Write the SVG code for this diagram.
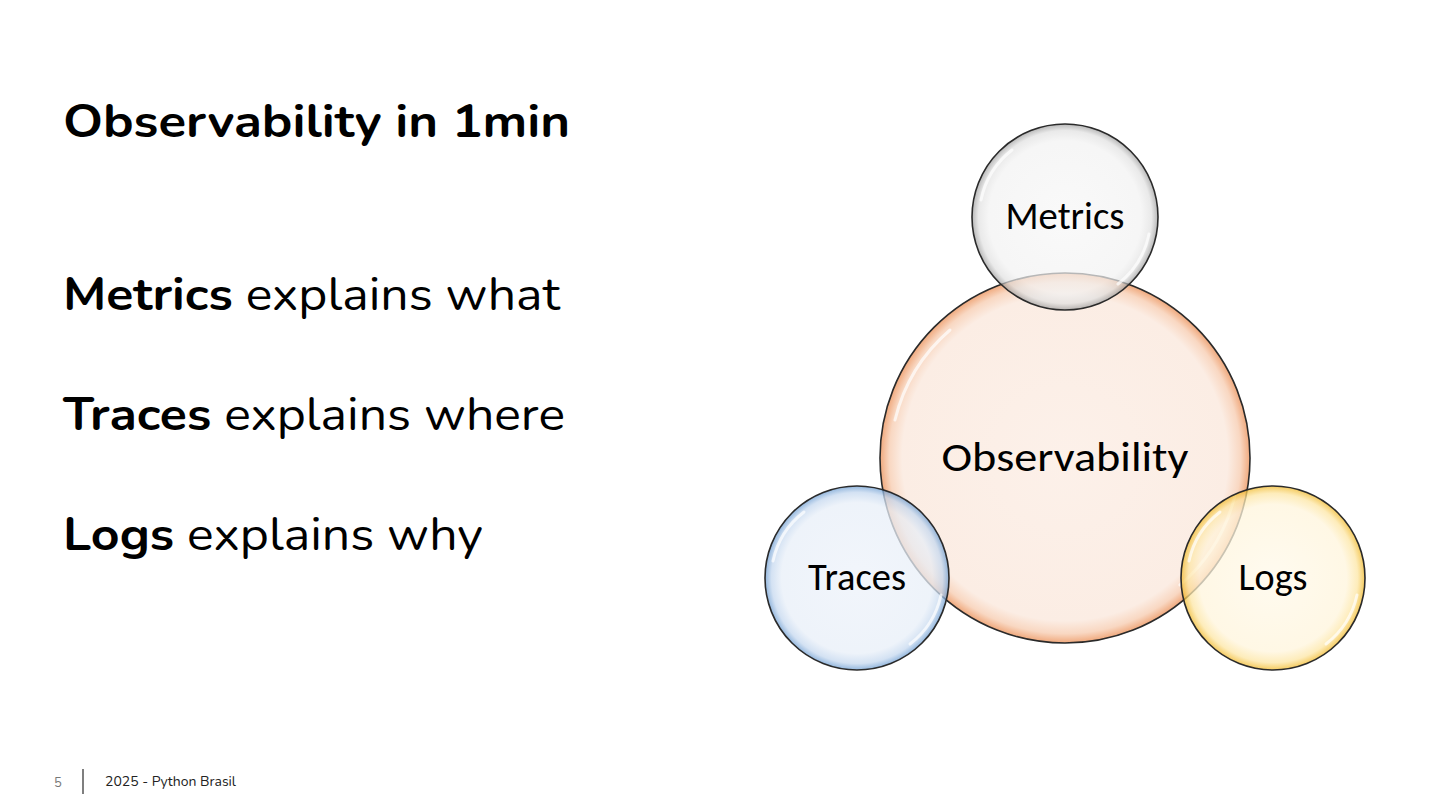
<svg xmlns="http://www.w3.org/2000/svg" width="1440" height="810" viewBox="0 0 1440 810">
<style>
.t{font-family:Nunito,Lato,"Noto Sans",sans-serif;fill:#000}
.lbl{font-family:Carlito,"Open Sans","Noto Sans",sans-serif;fill:#000;text-anchor:middle}
.c{stroke:#2a2a2a;stroke-width:1.6}
.hl{fill:none;stroke:#fff;stroke-width:3;stroke-opacity:0.7;stroke-linecap:round}
.ft{font-family:Nunito,Lato,"Noto Sans",sans-serif;font-size:13px}
</style>
<defs>
<radialGradient id="gM" cx="0.5" cy="0.5" r="0.5">
<stop offset="0" stop-color="#f7f7f7"/><stop offset="0.82" stop-color="#f2f2f2"/><stop offset="0.93" stop-color="#e0e0e0"/><stop offset="1" stop-color="#9a9a9a"/>
</radialGradient>
<radialGradient id="gO" cx="0.5" cy="0.5" r="0.5">
<stop offset="0" stop-color="#fcefe7"/><stop offset="0.88" stop-color="#fbebe1"/><stop offset="0.95" stop-color="#f8d3bb"/><stop offset="1" stop-color="#ee9f6e"/>
</radialGradient>
<radialGradient id="gT" cx="0.5" cy="0.5" r="0.5">
<stop offset="0" stop-color="#edf2fa"/><stop offset="0.82" stop-color="#e8eff8"/><stop offset="0.93" stop-color="#c5d8ef"/><stop offset="1" stop-color="#6e9ed2"/>
</radialGradient>
<radialGradient id="gL" cx="0.5" cy="0.5" r="0.5">
<stop offset="0" stop-color="#fff9ea"/><stop offset="0.8" stop-color="#fff5dc"/><stop offset="0.92" stop-color="#fde6a4"/><stop offset="1" stop-color="#f1b92a"/>
</radialGradient>
</defs>
<rect width="1440" height="810" fill="#fff"/>
<text class="t" x="63" y="137" font-size="45" font-weight="bold" textLength="507" lengthAdjust="spacingAndGlyphs">Observability in 1min</text>
<text class="t" x="63" y="310" font-size="46" textLength="497" lengthAdjust="spacingAndGlyphs"><tspan font-weight="bold">Metrics</tspan> explains what</text>
<text class="t" x="63" y="430" font-size="46" textLength="502" lengthAdjust="spacingAndGlyphs"><tspan font-weight="bold">Traces</tspan> explains where</text>
<text class="t" x="63" y="550" font-size="46" textLength="420" lengthAdjust="spacingAndGlyphs"><tspan font-weight="bold">Logs</tspan> explains why</text>
<g id="observability">
<circle class="c" cx="1065" cy="458" r="185" fill="url(#gO)" fill-opacity="0.9"/>
<path class="hl" d="M 895 420 A 172 172 0 0 1 950 330"/>
<path class="hl" d="M 1235 495 A 172 172 0 0 1 1180 585"/>
<text class="lbl" x="1065" y="471" font-size="42" textLength="247" lengthAdjust="spacingAndGlyphs">Observability</text>
</g>
<g id="metrics">
<circle class="c" cx="1065" cy="217" r="93" fill="url(#gM)" fill-opacity="0.7"/>
<path class="hl" d="M 981 200 A 85 85 0 0 1 1012 150"/>
<path class="hl" d="M 1149 234 A 85 85 0 0 1 1118 284"/>
<text class="lbl" x="1065" y="229" font-size="38" textLength="119" lengthAdjust="spacingAndGlyphs">Metrics</text>
</g>
<g id="traces">
<circle class="c" cx="857" cy="578" r="92" fill="url(#gT)" fill-opacity="0.75"/>
<path class="hl" d="M 773 561 A 84 84 0 0 1 804 512"/>
<path class="hl" d="M 941 595 A 84 84 0 0 1 910 644"/>
<text class="lbl" x="857" y="590" font-size="38" textLength="98" lengthAdjust="spacingAndGlyphs">Traces</text>
</g>
<g id="logs">
<circle class="c" cx="1273" cy="578" r="92" fill="url(#gL)" fill-opacity="0.75"/>
<path class="hl" d="M 1189 561 A 84 84 0 0 1 1220 512"/>
<path class="hl" d="M 1357 595 A 84 84 0 0 1 1326 644"/>
<text class="lbl" x="1273" y="590" font-size="38" textLength="69" lengthAdjust="spacingAndGlyphs">Logs</text>
</g>
<g id="connectors"></g>
<g id="footer">
<text class="ft" x="54" y="787" fill="#777">5</text>
<line x1="83" y1="769" x2="83" y2="794" stroke="#555" stroke-width="1.5"/>
<text class="ft" x="105" y="786" fill="#222" textLength="131" lengthAdjust="spacingAndGlyphs">2025 - Python Brasil</text>
</g>
</svg>
